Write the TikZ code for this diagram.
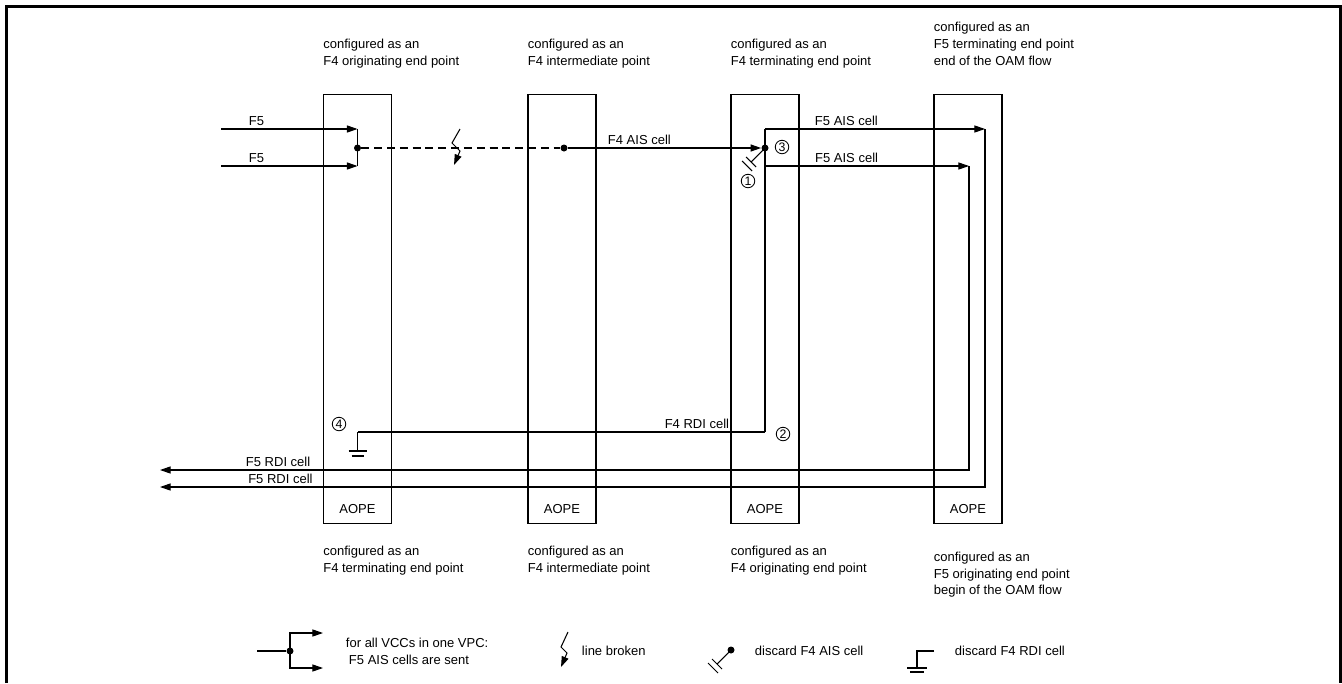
\documentclass[tikz,border=0pt]{standalone}
\usepackage{fontspec}
\setmainfont{Liberation Sans}
\usetikzlibrary{arrows.meta, positioning, calc}

\begin{document}
\begin{tikzpicture}[
  x=0.02cm, y=-0.02cm,
  box/.style   = {rectangle, draw, line width=0.6pt, minimum width=1.36cm,
                  minimum height=8.6cm, inner sep=0},
  line/.style  = {line width=0.6pt},
  arrow/.style = {line, -{Triangle[length=6pt,width=4pt]}},
  broken/.style = {line, dash pattern=on 4.5pt off 2.8pt},
  txt/.style   = {font=\fontsize{7.4}{9.6}\selectfont, inner sep=1.5pt},
  conf/.style  = {txt, align=left, inner sep=0, anchor=south west},
  dot/.style   = {circle, fill, inner sep=0, minimum size=0.14cm},
  num/.style   = {circle, draw, line width=0.5pt, inner sep=0, minimum size=0.27cm,
                  font=\fontsize{7}{7}\selectfont}
]
\useasboundingbox (0,0) rectangle (1342,683);
\draw[line width=1.2pt] (6.5,683) -- (6.5,6.5) -- (1340.5,6.5) -- (1340.5,683);

% the four AOPEs
\foreach \n/\x in {1/357.5, 2/562, 3/765, 4/968} {
  \node[box] (b\n) at (\x,309) {};
  \node[txt] (a\n) at ([yshift=0.3cm]b\n.south) {AOPE};
}

\node[conf] (t1) at ([yshift=0.5cm]b1.north west) {configured as an\\F4 originating end point};
\node[conf] (t2) at ([yshift=0.5cm]b2.north west) {configured as an\\F4 intermediate point};
\node[conf] (t3) at ([yshift=0.5cm]b3.north west) {configured as an\\F4 terminating end point};
\node[conf] (t4) at ([yshift=0.55cm]b4.north west) {configured as an\\F5 terminating end point\\end of the OAM flow};

\node[conf, anchor=north west] (u1) at ([yshift=-0.42cm]b1.south west) {configured as an\\F4 terminating end point};
\node[conf, anchor=north west] (u2) at ([yshift=-0.42cm]b2.south west) {configured as an\\F4 intermediate point};
\node[conf, anchor=north west] (u3) at ([yshift=-0.42cm]b3.south west) {configured as an\\F4 originating end point};
\node[conf, anchor=north west] (u4) at ([yshift=-0.54cm]b4.south west) {configured as an\\F5 originating end point\\begin of the OAM flow};

% F4 AIS path
\coordinate (in1) at (221,129);
\coordinate (in2) at (221,166);
\coordinate (j1) at (357.5,129);
\coordinate (j2) at (357.5,166);
\node[dot] (d1) at (357.5,148) {};
\node[dot] (d2) at (564,148) {};
\node[dot] (d3) at (765,148) {};
\draw[arrow] (in1) -- node[txt, above, pos=0.26] {F5} (j1);
\draw[arrow] (in2) -- node[txt, above, pos=0.26] {F5} (j2);
\draw[line] (j1) -- (j2);
\draw[broken] (d1) -- (d2);
\draw[arrow] (460,129) -- (452,143) -- (460,151) -- (454,165);
\draw[arrow] (d2) -- node[txt, above, pos=0.37] {F4 AIS cell} (d3);

% discard at the F4 end point
\draw[line] (d3.center) -- ++(-14,14);
\draw[line] ($(d3)+(-19,9)$) -- ++(10,10);
\draw[line] ($(d3)+(-23,13)$) -- ++(10,10);

% F5 AIS and F5 RDI cells
\coordinate (s1) at (765,129);
\coordinate (s2) at (765,166);
\coordinate (s3) at (765,432);
\coordinate (e1) at (985,129);
\coordinate (e2) at (969,166);
\coordinate (o1) at (160,470);
\coordinate (o2) at (160,487);
\draw[line] (s1) -- (s3);
\draw[arrow] (s1) -- node[txt, above, pos=0.37] {F5 AIS cell} (e1);
\draw[arrow] (s2) -- node[txt, above, pos=0.40] {F5 AIS cell} (e2);
\draw[arrow] (e2) |- node[txt, above, pos=0.927] {F5 RDI cell} (o1);
\draw[arrow] (e1) |- node[txt, above, pos=0.927] {F5 RDI cell} (o2);

% F4 RDI cell
\coordinate (g1) at (357.5,432);
\draw[line] (s3) -- node[txt, above, pos=0.167] {F4 RDI cell} (g1);
\draw[line] (g1) -- ++(0,19) coordinate (g2);
\draw[line] ($(g2)+(-9,0)$) -- ++(18,0);
\draw[line] ($(g2)+(-6,5)$) -- ++(12,0);

\node[num] (n1) at (748,181) {1};
\node[num] (n2) at (783,434) {2};
\node[num] (n3) at (782,147) {3};
\node[num] (n4) at (339,424) {4};

% legend
\coordinate (lga) at (257,651);
\node[dot] (lgd) at (290,651) {};
\coordinate (lgt) at (323,633);
\coordinate (lgb) at (323,668);
\draw[line] (lga) -- (lgd);
\draw[arrow] (lgd.center) |- (lgt);
\draw[arrow] (lgd.center) |- (lgb);
\node[txt, align=left, anchor=west] (lgx) at (343,651) {for all VCCs in one VPC:\\\hspace*{0.06cm}F5 AIS cells are sent};

\draw[arrow] (568,632) -- (561,647) -- (567,653) -- (561,667);
\node[txt, anchor=west] (lgl) at (579,651) {line broken};

\node[dot] (lgs) at (731,650) {};
\draw[line] (lgs.center) -- ++(-14,14);
\draw[line] ($(lgs)+(-19,9)$) -- ++(10,10);
\draw[line] ($(lgs)+(-23,13)$) -- ++(10,10);
\node[txt, anchor=west] (lgi) at (752,651) {discard F4 AIS cell};

\coordinate (lgg) at (934,651);
\draw[line] (lgg) -- ++(-17,0) -- ++(0,17) coordinate (lgh);
\draw[line] ($(lgh)+(-10,0)$) -- ++(20,0);
\draw[line] ($(lgh)+(-7,4)$) -- ++(14,0);
\node[txt, anchor=west] (lgr) at (952,651) {discard F4 RDI cell};

\end{tikzpicture}
\end{document}
